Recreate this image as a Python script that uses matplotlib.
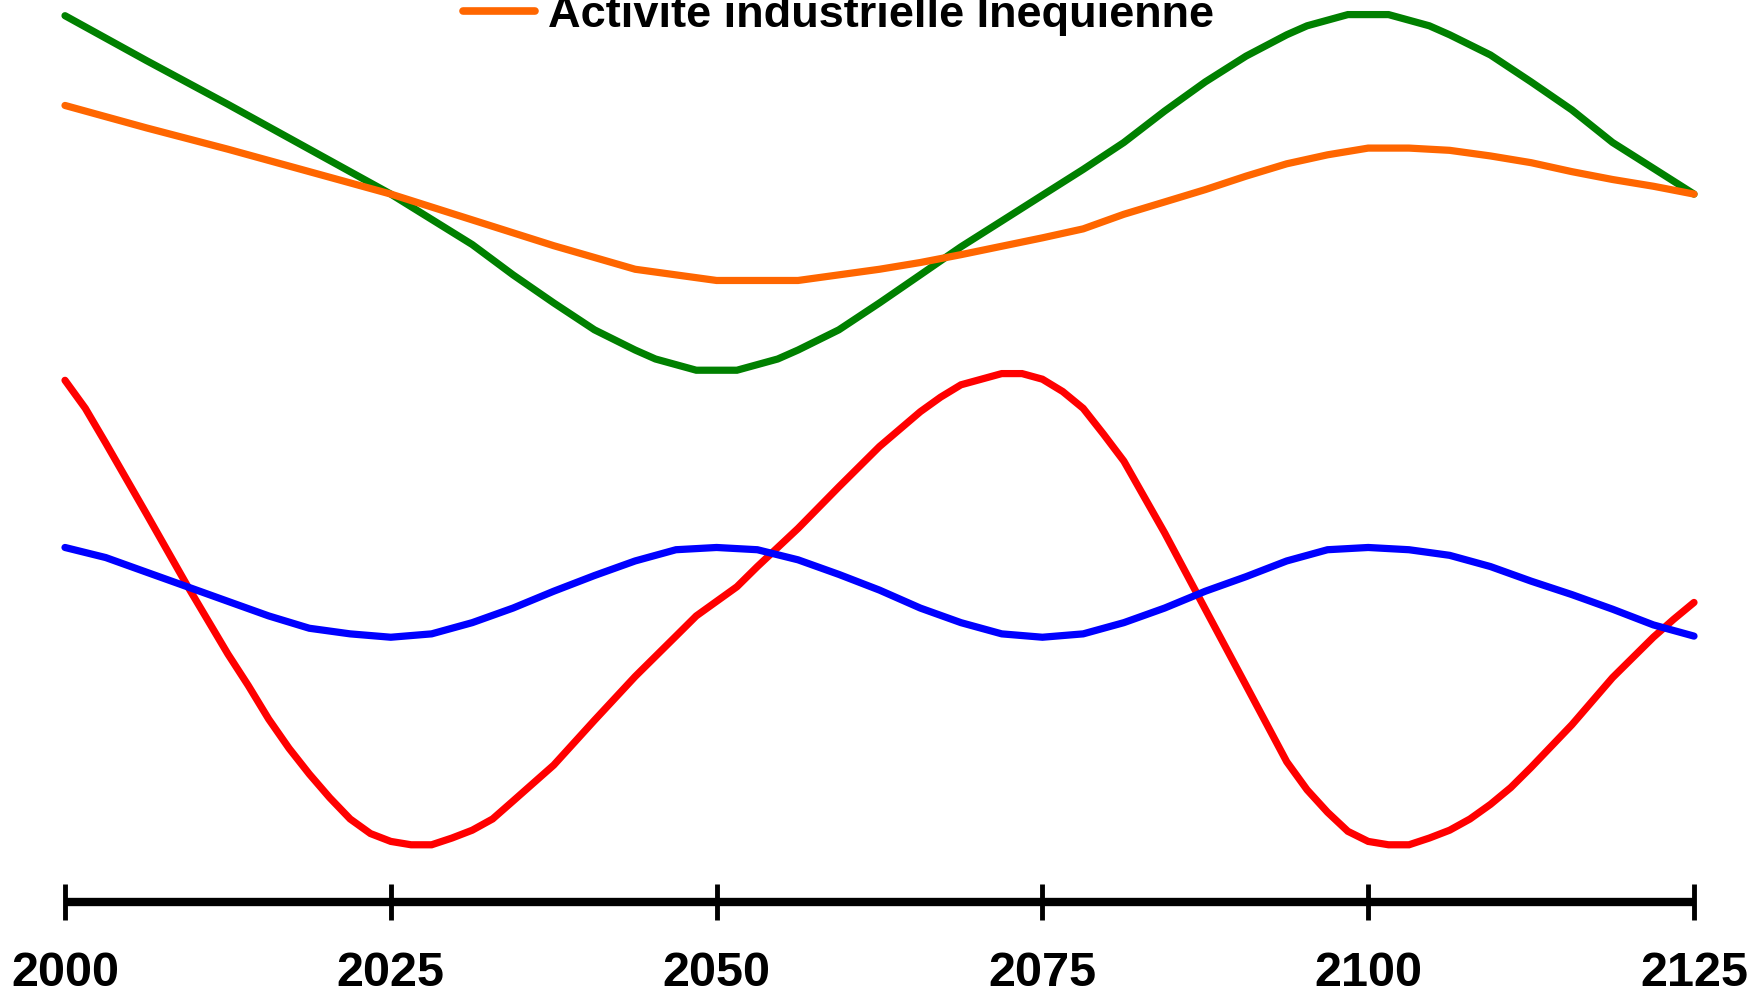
import matplotlib
matplotlib.use("Agg")
import matplotlib.pyplot as plt
from matplotlib.lines import Line2D

# Series values (index units).
green_years = [2000, 2006.25, 2012.5, 2018.75, 2025, 2031.25, 2034.38, 2037.5, 2040.63,
               2043.75, 2045.31, 2048.44, 2051.56, 2054.69, 2056.25, 2059.38, 2062.5,
               2065.63, 2068.75, 2071.88, 2075, 2078.13, 2081.25, 2084.38, 2087.5,
               2090.63, 2093.75, 2095.31, 2098.44, 2101.56, 2104.69, 2106.25, 2109.38,
               2112.5, 2115.63, 2118.75, 2121.88, 2125]
green_vals = [79.0, 75.0, 71.1, 67.1, 63.1, 58.6, 55.9, 53.4, 51.0,
              49.2, 48.4, 47.4, 47.4, 48.4, 49.2, 51.0, 53.4,
              55.9, 58.4, 60.7, 63.0, 65.3, 67.7, 70.5, 73.1,
              75.4, 77.3, 78.1, 79.1, 79.1, 78.1, 77.3, 75.5,
              73.1, 70.6, 67.7, 65.4, 63.1]

orange_years = [2000, 2006.25, 2012.5, 2018.75, 2025, 2031.25, 2037.5, 2043.75, 2050,
                2056.25, 2062.5, 2065.63, 2068.75, 2075, 2078.13, 2081.25, 2084.38,
                2087.5, 2090.63, 2093.75, 2096.88, 2100, 2103.13, 2106.25, 2109.38,
                2112.5, 2115.63, 2118.75, 2121.88, 2125]
orange_vals = [71.0, 69.0, 67.1, 65.1, 63.1, 60.8, 58.5, 56.4, 55.4,
               55.4, 56.4, 57.0, 57.7, 59.2, 60.0, 61.3, 62.4,
               63.5, 64.7, 65.8, 66.6, 67.2, 67.2, 67.0, 66.5,
               65.9, 65.1, 64.4, 63.8, 63.1]

red_years = [2000, 2001.56, 2003.13, 2006.25, 2009.38, 2012.5, 2014.06, 2015.63, 2017.19,
             2018.75, 2020.31, 2021.88, 2023.44, 2025, 2026.56, 2028.13, 2029.69,
             2031.25, 2032.81, 2034.38, 2037.5, 2040.63, 2043.75, 2046.88, 2048.44,
             2051.56, 2053.13, 2056.25, 2059.38, 2062.5, 2065.63, 2067.19, 2068.75,
             2071.88, 2073.44, 2075, 2076.56, 2078.13, 2079.69, 2081.25, 2084.38,
             2087.5, 2090.63, 2092.19, 2093.75, 2095.31, 2096.88, 2098.44, 2100,
             2101.56, 2103.13, 2104.69, 2106.25, 2107.81, 2109.38, 2110.94, 2112.5,
             2115.63, 2118.75, 2121.88, 2123.44, 2125]
red_vals = [46.5, 44.0, 40.9, 34.6, 28.2, 22.1, 19.3, 16.3, 13.7,
            11.4, 9.3, 7.4, 6.1, 5.4, 5.1, 5.1, 5.7,
            6.4, 7.4, 9.0, 12.2, 16.2, 20.1, 23.7, 25.5,
            28.1, 29.9, 33.3, 37.0, 40.6, 43.7, 45.0, 46.1,
            47.1, 47.1, 46.6, 45.5, 44.0, 41.7, 39.3, 32.9,
            26.1, 19.3, 15.9, 12.5, 10.0, 8.0, 6.3, 5.4,
            5.1, 5.1, 5.7, 6.4, 7.4, 8.7, 10.2, 12.0,
            15.8, 20.0, 23.6, 25.2, 26.7]

blue_years = [2000, 2003.13, 2006.25, 2009.38, 2012.5, 2015.63, 2018.75, 2021.88, 2025,
              2028.13, 2031.25, 2034.38, 2037.5, 2040.63, 2043.75, 2046.88, 2050,
              2053.13, 2056.25, 2059.38, 2062.5, 2065.63, 2068.75, 2071.88, 2075,
              2078.13, 2081.25, 2084.38, 2087.5, 2090.63, 2093.75, 2096.88, 2100,
              2103.13, 2106.25, 2109.38, 2112.5, 2115.63, 2118.75, 2121.88, 2125]
blue_vals = [31.6, 30.7, 29.4, 28.1, 26.8, 25.5, 24.4, 23.9, 23.6,
             23.9, 24.9, 26.2, 27.7, 29.1, 30.4, 31.4, 31.6,
             31.4, 30.5, 29.2, 27.8, 26.2, 24.9, 23.9, 23.6,
             23.9, 24.9, 26.2, 27.7, 29.0, 30.4, 31.4, 31.6,
             31.4, 30.9, 29.9, 28.6, 27.4, 26.1, 24.7, 23.7]

xticks = [2000, 2025, 2050, 2075, 2100, 2125]
legend_label = "Activite industrielle Inequienne"

plt.rcParams["font.family"] = ["Liberation Sans", "DejaVu Sans"]

W, H = 1759, 996
fig = plt.figure(figsize=(W / 100, H / 100), dpi=100)
ax = fig.add_axes([65 / W, 94 / H, 1629 / W, 902 / H])

kw = dict(lw=5.2, clip_on=False, solid_capstyle="round", solid_joinstyle="miter")
ax.plot(green_years, green_vals, color="#008000", **kw)
ax.plot(orange_years, orange_vals, color="#FF6600", **kw)
ax.plot(red_years, red_vals, color="#FF0000", **kw)
ax.plot(blue_years, blue_vals, color="#0000FF", **kw)

ax.set_xlim(2000, 2125)
ax.set_ylim(0, 80.4)
for side in ["top", "right", "left"]:
    ax.spines[side].set_visible(False)
ax.spines["bottom"].set_linewidth(6)
ax.spines["bottom"].set_capstyle("butt")
ax.set_yticks([])
ax.set_xticks(xticks)
ax.set_xticklabels([str(t) for t in xticks], fontsize=35, fontweight="bold")
ax.tick_params(axis="x", direction="inout", length=26, width=3.5, pad=22)

handle = Line2D([], [], color="#FF6600", lw=5.5, solid_capstyle="round")
ax.legend([handle], [legend_label], loc="center left",
          bbox_to_anchor=(440 / W, 1 - 15 / H), bbox_transform=fig.transFigure,
          frameon=False, borderpad=0, prop={"weight": "bold", "size": 32.5},
          handlelength=1.6, handletextpad=0.3)

fig.savefig("out.png", dpi=100)
